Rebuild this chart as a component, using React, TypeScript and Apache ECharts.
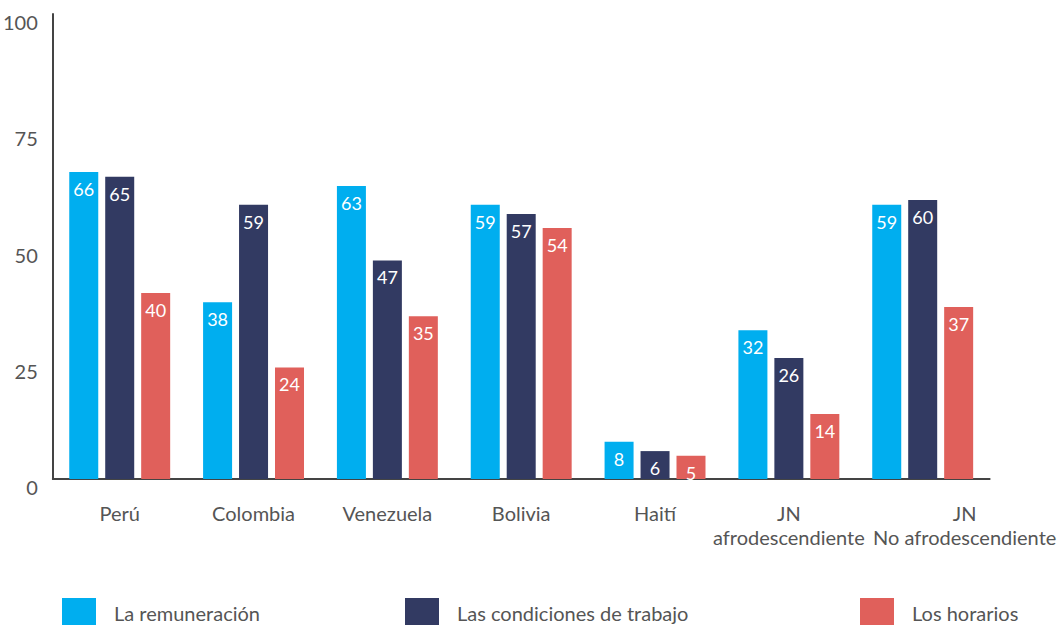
import React, { useEffect, useRef } from "react";
import * as echarts from "echarts";

const categories = ["Perú", "Colombia", "Venezuela", "Bolivia", "Haití", "JN\nafrodescendiente", "JN\nNo afrodescendiente"];
const seriesNames = ["La remuneración", "Las condiciones de trabajo", "Los horarios"];
const remuneracion = [66, 38, 63, 59, 8, 32, 59];
const condiciones = [65, 59, 47, 57, 6, 26, 60];
const horarios = [40, 24, 35, 54, 5, 14, 37];
const colors = ["#00AEEF", "#323A62", "#E0605B"];
const yTicks = [0, 25, 50, 75, 100];

const FONT = "Lato, 'Liberation Sans Narrow', sans-serif";

export default function App() {
  const ref = useRef<HTMLDivElement>(null);
  useEffect(() => {
    document.body.style.margin = "0";
    const chart = echarts.init(ref.current!, null, { renderer: "svg" });
    const data = [remuneracion, condiciones, horarios];
    const legendLefts = [62, 405, 860];
    const catData = categories.map((c, i) =>
      i === categories.length - 1 ? { value: c, textStyle: { padding: [0, 0, 0, 84] } } : c
    );
    chart.setOption({
      animation: false,
      textStyle: { fontFamily: FONT },
      grid: { left: 52, right: 51, top: 14, bottom: 146, containLabel: false },
      legend: seriesNames.map((n, i) => ({
        data: [n],
        left: legendLefts[i],
        top: 598,
        padding: 0,
        itemWidth: 34,
        itemHeight: 30,
        itemGap: 0,
        icon: "rect",
        textStyle: { fontFamily: FONT, fontSize: 20, color: "#555", padding: [0, 0, 0, 13] },
      })),
      xAxis: {
        type: "category",
        data: catData,
        axisLine: { show: true, lineStyle: { color: "#444", width: 2 } },
        axisTick: { show: false },
        axisLabel: { fontFamily: FONT, fontSize: 20, color: "#555", margin: 22, lineHeight: 24, interval: 0 },
      },
      yAxis: {
        type: "value",
        min: 0,
        max: 100,
        interval: 25,
        axisLine: { show: true, lineStyle: { color: "#444", width: 2 } },
        axisTick: { show: false },
        splitLine: { show: false },
        axisLabel: {
          fontFamily: FONT,
          fontSize: 20,
          color: "#555",
          margin: 15,
          verticalAlign: "top",
          lineHeight: 16,
          formatter: (v: number) => (yTicks.includes(v) ? String(v) : ""),
        },
      },
      series: seriesNames.map((n, i) => ({
        name: n,
        type: "bar",
        data: data[i],
        barWidth: 29,
        barGap: "24%",
        itemStyle: { color: colors[i] },
        label: {
          show: true,
          position: "insideTop",
          distance: 8,
          color: "#fff",
          fontFamily: FONT,
          fontSize: 18,
        },
      })),
    });
    return () => chart.dispose();
  }, []);
  return <div ref={ref} style={{ position: "absolute", left: 0, top: 0, width: 1058, height: 625 }} />;
}
